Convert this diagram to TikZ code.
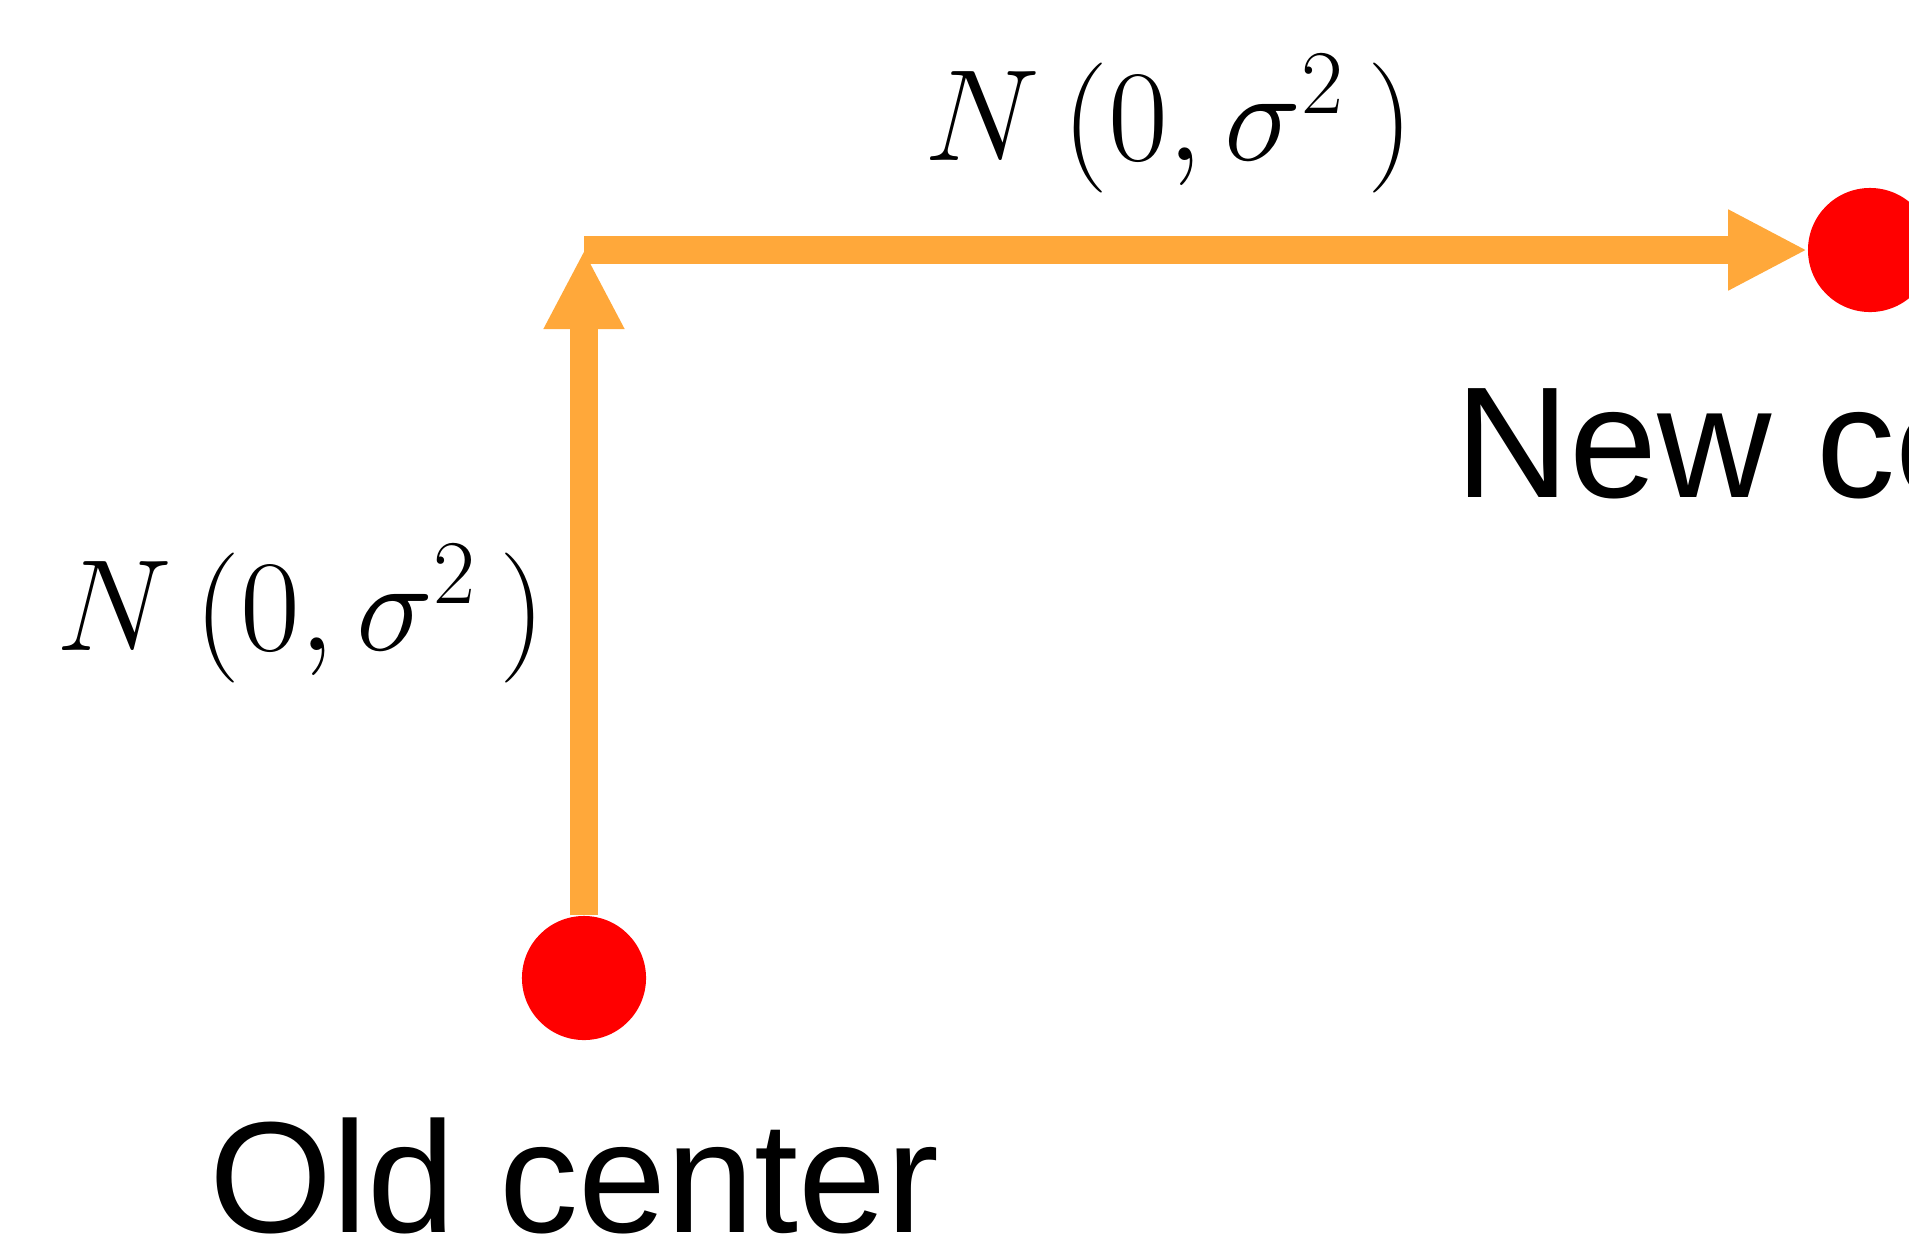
\documentclass[tikz,border=0pt]{standalone}
\usepackage{fix-cm}
\usepackage{fontspec}
\setmainfont{Liberation Sans}
\usetikzlibrary{arrows.meta}
\definecolor{jumporange}{HTML}{FFA83A}

\begin{document}
\begin{tikzpicture}[x=0.01cm,y=-0.01cm,
  centre/.style={circle,fill=red,minimum size=1.24cm,inner sep=0pt},
  lab/.style={font=\fontsize{45}{54}\selectfont,inner sep=0pt},
  formula/.style={font=\fontsize{37}{44}\selectfont,inner sep=0pt},
  jump/.style={draw=jumporange,line width=0.27cm,-{Triangle[length=0.79cm,width=0.75cm]}}]
\clip (0,0) rectangle (1909,1239);
\node[centre] (old) at (584,978) {};
\node[centre] (new) at (1870,250) {};
\coordinate (corner) at (584,250);
\node[lab,anchor=base west] (oldlab) at (209,1232) {Old center};
\node[lab,anchor=base west] (newlab) at (1455,497) {New center};
\node[formula] (vlab) at (301,614) {$N\,\bigg(0,\sigma^2\,\bigg)$};
\node[formula] (hlab) at (1169,124) {$N\,\bigg(0,\sigma^2\,\bigg)$};
\draw[jump] (old) -- (corner);
\draw[jump] (corner) -- (new);
\end{tikzpicture}
\end{document}
